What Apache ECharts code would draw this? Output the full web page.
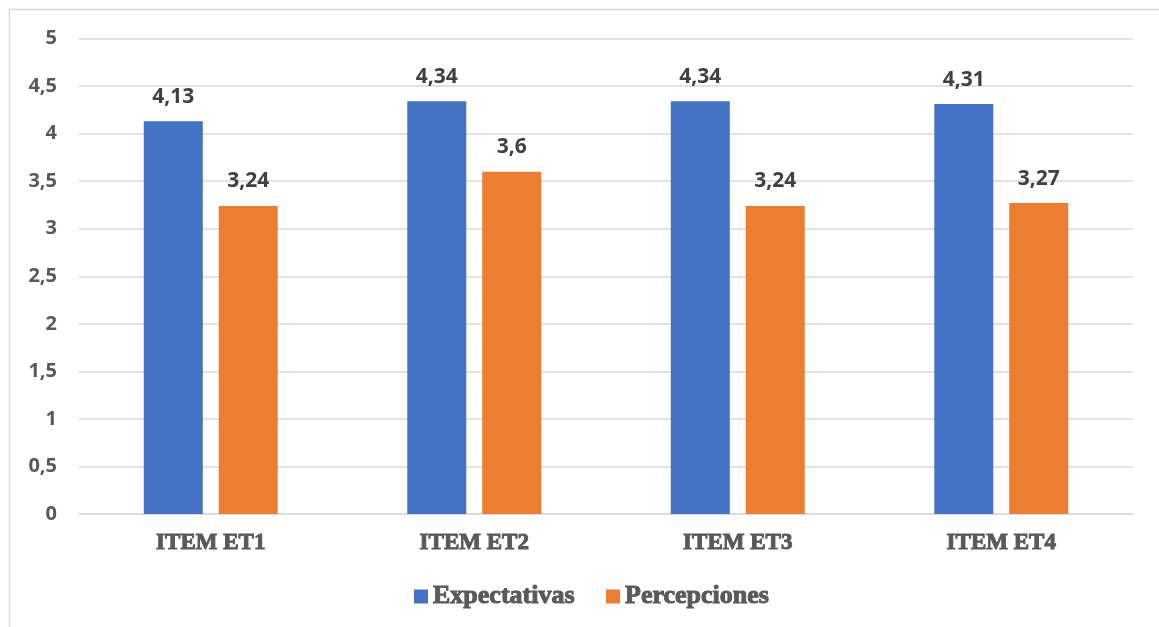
<!DOCTYPE html>
<html>
<head>
<meta charset="utf-8">
<script src="https://cdn.jsdelivr.net/npm/echarts@6/dist/echarts.min.js"></script>
<style>
html,body{margin:0;padding:0;background:#fff;}
#c{width:1159px;height:627px;}
</style>
</head>
<body>
<div id="c"></div>
<script>
const categories = ['ITEM ET1', 'ITEM ET2', 'ITEM ET3', 'ITEM ET4'];
const expectativas = [4.13, 4.34, 4.34, 4.31];
const percepciones = [3.24, 3.6, 3.24, 3.27];
const seriesNames = ['Expectativas', 'Percepciones'];

const fmt = v => String(v).replace('.', ',');
const chart = echarts.init(document.getElementById('c'));
const serif = '"Liberation Serif", "Times New Roman", serif';
const labelStyle = {
  show: true, position: 'top', distance: 14,
  fontFamily: '"Open Sans"', fontWeight: 700, fontSize: 21,
  color: '#404040',
  formatter: p => fmt(p.value)
};
chart.setOption({
  animation: false,
  graphic: [{
    type: 'rect', shape: {x: 9.5, y: 9.5, width: 1170, height: 660},
    style: {fill: 'none', stroke: '#d9d9d9', lineWidth: 1.5}, silent: true, z: -1
  }],
  grid: {left: 79, right: 26, top: 38.5, bottom: 113, containLabel: false},
  legend: {
    data: seriesNames, bottom: 12, left: 409,
    itemWidth: 14, itemHeight: 14, itemGap: 31, icon: 'rect',
    textStyle: {fontFamily: serif, fontWeight: 700, fontSize: 26, color: '#595959',
      textBorderColor: '#595959', textBorderWidth: 1}
  },
  xAxis: {
    type: 'category', data: categories,
    axisLine: {show: true, lineStyle: {color: '#d9d9d9', width: 1.5}},
    axisTick: {show: false},
    axisLabel: {margin: 18, fontFamily: serif, fontWeight: 700, fontSize: 23, color: '#595959',
      textBorderColor: '#595959', textBorderWidth: 1}
  },
  yAxis: {
    type: 'value', min: 0, max: 5, interval: 0.5,
    axisLine: {show: false}, axisTick: {show: false},
    splitLine: {lineStyle: {color: '#d9d9d9', width: 1.5}},
    axisLabel: {margin: 22, fontFamily: '"Open Sans"', fontWeight: 700, fontSize: 20, color: '#595959', formatter: v => fmt(v)}
  },
  series: [
    {name: seriesNames[0], type: 'bar', data: expectativas, barWidth: 59, barGap: '27%', itemStyle: {color: '#4472C4'}, label: labelStyle},
    {name: seriesNames[1], type: 'bar', data: percepciones, barWidth: 59, barGap: '27%', itemStyle: {color: '#ED7D31'}, label: labelStyle}
  ]
});
</script>
</body>
</html>
